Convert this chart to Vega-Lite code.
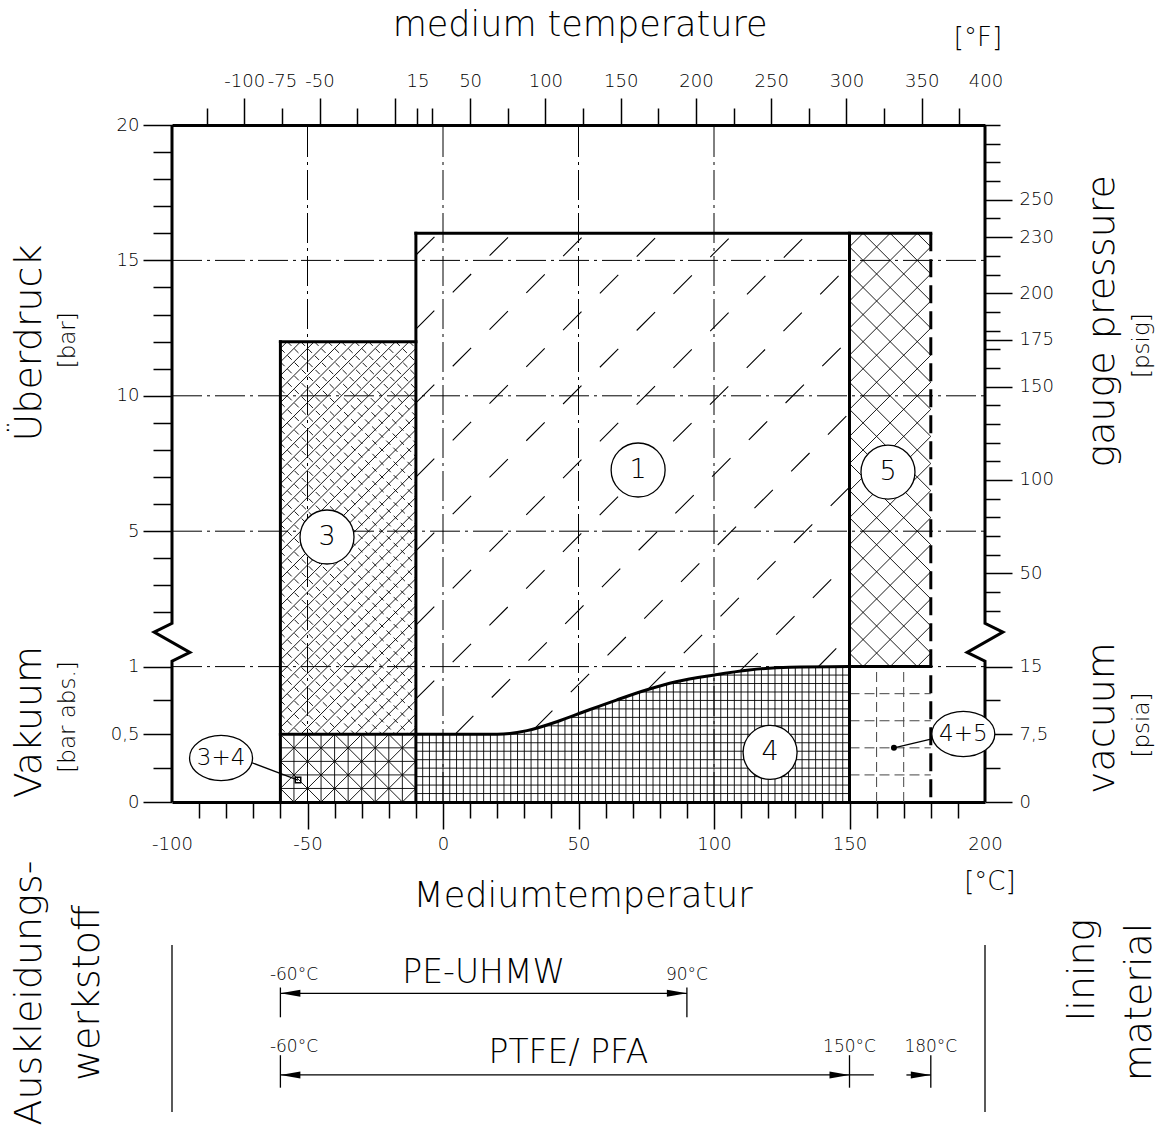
{
  "$schema": "https://vega.github.io/schema/vega-lite/v6.json",
  "width": 813,
  "height": 677,
  "padding": {"left": 172, "top": 125, "right": 185, "bottom": 340},
  "autosize": {"type": "none"},
  "background": "white",
  "config": {"view": {"stroke": null}, "font": "DejaVu Sans", "text": {"fontWeight": 200}, "axis": {"labelColor": "black", "domainColor": "black", "grid": false, "labelFontWeight": 200}},
  "datasets": {
    "grid": [
      {"t": -100, "u": 1, "t2": 200, "u2": 1},
      {"t": -100, "u": 2, "t2": 200, "u2": 2},
      {"t": -100, "u": 3, "t2": 200, "u2": 3},
      {"t": -100, "u": 4, "t2": 200, "u2": 4},
      {"t": -50, "u": 0, "t2": -50, "u2": 5},
      {"t": 0, "u": 0, "t2": 0, "u2": 5},
      {"t": 50, "u": 0, "t2": 50, "u2": 5},
      {"t": 100, "u": 0, "t2": 100, "u2": 5}
    ],
    "reg4v": [
      {"t": -7.5, "u": 0, "t2": -7.5, "u2": 0.5}, {"t": -5, "u": 0, "t2": -5, "u2": 0.5}, {"t": -2.5, "u": 0, "t2": -2.5, "u2": 0.5},
      {"t": 0, "u": 0, "t2": 0, "u2": 0.5}, {"t": 2.5, "u": 0, "t2": 2.5, "u2": 0.5}, {"t": 5, "u": 0, "t2": 5, "u2": 0.5},
      {"t": 7.5, "u": 0, "t2": 7.5, "u2": 0.5}, {"t": 10, "u": 0, "t2": 10, "u2": 0.5}, {"t": 12.5, "u": 0, "t2": 12.5, "u2": 0.5},
      {"t": 15, "u": 0, "t2": 15, "u2": 0.5}, {"t": 17.5, "u": 0, "t2": 17.5, "u2": 0.5}, {"t": 20, "u": 0, "t2": 20, "u2": 0.5},
      {"t": 22.5, "u": 0, "t2": 22.5, "u2": 0.506}, {"t": 25, "u": 0, "t2": 25, "u2": 0.512}, {"t": 27.5, "u": 0, "t2": 27.5, "u2": 0.519},
      {"t": 30, "u": 0, "t2": 30, "u2": 0.525}, {"t": 32.5, "u": 0, "t2": 32.5, "u2": 0.536}, {"t": 35, "u": 0, "t2": 35, "u2": 0.551},
      {"t": 37.5, "u": 0, "t2": 37.5, "u2": 0.566}, {"t": 40, "u": 0, "t2": 40, "u2": 0.581}, {"t": 42.5, "u": 0, "t2": 42.5, "u2": 0.597},
      {"t": 45, "u": 0, "t2": 45, "u2": 0.615}, {"t": 47.5, "u": 0, "t2": 47.5, "u2": 0.634}, {"t": 50, "u": 0, "t2": 50, "u2": 0.652},
      {"t": 52.5, "u": 0, "t2": 52.5, "u2": 0.67}, {"t": 55, "u": 0, "t2": 55, "u2": 0.688}, {"t": 57.5, "u": 0, "t2": 57.5, "u2": 0.706},
      {"t": 60, "u": 0, "t2": 60, "u2": 0.724}, {"t": 62.5, "u": 0, "t2": 62.5, "u2": 0.742}, {"t": 65, "u": 0, "t2": 65, "u2": 0.76},
      {"t": 67.5, "u": 0, "t2": 67.5, "u2": 0.777}, {"t": 70, "u": 0, "t2": 70, "u2": 0.793}, {"t": 72.5, "u": 0, "t2": 72.5, "u2": 0.81},
      {"t": 75, "u": 0, "t2": 75, "u2": 0.827}, {"t": 77.5, "u": 0, "t2": 77.5, "u2": 0.841}, {"t": 80, "u": 0, "t2": 80, "u2": 0.855},
      {"t": 82.5, "u": 0, "t2": 82.5, "u2": 0.869}, {"t": 85, "u": 0, "t2": 85, "u2": 0.882}, {"t": 87.5, "u": 0, "t2": 87.5, "u2": 0.893},
      {"t": 90, "u": 0, "t2": 90, "u2": 0.902}, {"t": 92.5, "u": 0, "t2": 92.5, "u2": 0.911}, {"t": 95, "u": 0, "t2": 95, "u2": 0.92},
      {"t": 97.5, "u": 0, "t2": 97.5, "u2": 0.929}, {"t": 100, "u": 0, "t2": 100, "u2": 0.938}, {"t": 102.5, "u": 0, "t2": 102.5, "u2": 0.945},
      {"t": 105, "u": 0, "t2": 105, "u2": 0.952}, {"t": 107.5, "u": 0, "t2": 107.5, "u2": 0.959}, {"t": 110, "u": 0, "t2": 110, "u2": 0.966},
      {"t": 112.5, "u": 0, "t2": 112.5, "u2": 0.974}, {"t": 115, "u": 0, "t2": 115, "u2": 0.978}, {"t": 117.5, "u": 0, "t2": 117.5, "u2": 0.982},
      {"t": 120, "u": 0, "t2": 120, "u2": 0.985}, {"t": 122.5, "u": 0, "t2": 122.5, "u2": 0.988}, {"t": 125, "u": 0, "t2": 125, "u2": 0.991},
      {"t": 127.5, "u": 0, "t2": 127.5, "u2": 0.994}, {"t": 130, "u": 0, "t2": 130, "u2": 0.995}, {"t": 132.5, "u": 0, "t2": 132.5, "u2": 0.996},
      {"t": 135, "u": 0, "t2": 135, "u2": 0.997}, {"t": 137.5, "u": 0, "t2": 137.5, "u2": 0.997}, {"t": 140, "u": 0, "t2": 140, "u2": 0.998},
      {"t": 142.5, "u": 0, "t2": 142.5, "u2": 0.998}, {"t": 145, "u": 0, "t2": 145, "u2": 0.999}, {"t": 147.5, "u": 0, "t2": 147.5, "u2": 0.999}
    ],
    "reg4h": [
      {"t": -10, "u": 0.0625, "t2": 150, "u2": 0.0625}, {"t": -10, "u": 0.125, "t2": 150, "u2": 0.125},
      {"t": -10, "u": 0.1875, "t2": 150, "u2": 0.1875}, {"t": -10, "u": 0.25, "t2": 150, "u2": 0.25},
      {"t": -10, "u": 0.3125, "t2": 150, "u2": 0.3125}, {"t": -10, "u": 0.375, "t2": 150, "u2": 0.375},
      {"t": -10, "u": 0.4375, "t2": 150, "u2": 0.4375}, {"t": 20, "u": 0.5, "t2": 150, "u2": 0.5},
      {"t": 36.9, "u": 0.5625, "t2": 150, "u2": 0.5625}, {"t": 46.3, "u": 0.625, "t2": 150, "u2": 0.625},
      {"t": 54.9, "u": 0.6875, "t2": 150, "u2": 0.6875}, {"t": 63.6, "u": 0.75, "t2": 150, "u2": 0.75},
      {"t": 72.8, "u": 0.8125, "t2": 150, "u2": 0.8125}, {"t": 83.7, "u": 0.875, "t2": 150, "u2": 0.875},
      {"t": 99.9, "u": 0.9375, "t2": 150, "u2": 0.9375}
    ],
    "reg34": [
      {"t": -15, "u": 0, "t2": -10, "u2": 0.1}, {"t": -25, "u": 0, "t2": -10, "u2": 0.3}, {"t": -35, "u": 0, "t2": -10, "u2": 0.5},
      {"t": -45, "u": 0, "t2": -20, "u2": 0.5}, {"t": -55, "u": 0, "t2": -30, "u2": 0.5}, {"t": -60, "u": 0.1, "t2": -40, "u2": 0.5},
      {"t": -60, "u": 0.3, "t2": -50, "u2": 0.5},
      {"t": -60, "u": 0.1, "t2": -55, "u2": 0}, {"t": -60, "u": 0.3, "t2": -45, "u2": 0}, {"t": -60, "u": 0.5, "t2": -35, "u2": 0},
      {"t": -50, "u": 0.5, "t2": -25, "u2": 0}, {"t": -40, "u": 0.5, "t2": -15, "u2": 0}, {"t": -30, "u": 0.5, "t2": -10, "u2": 0.1},
      {"t": -20, "u": 0.5, "t2": -10, "u2": 0.3},
      {"t": -55, "u": 0, "t2": -55, "u2": 0.5}, {"t": -50, "u": 0, "t2": -50, "u2": 0.5}, {"t": -45, "u": 0, "t2": -45, "u2": 0.5},
      {"t": -40, "u": 0, "t2": -40, "u2": 0.5}, {"t": -35, "u": 0, "t2": -35, "u2": 0.5}, {"t": -30, "u": 0, "t2": -30, "u2": 0.5},
      {"t": -25, "u": 0, "t2": -25, "u2": 0.5}, {"t": -20, "u": 0, "t2": -20, "u2": 0.5}, {"t": -15, "u": 0, "t2": -15, "u2": 0.5},
      {"t": -60, "u": 0.1, "t2": -10, "u2": 0.1}, {"t": -60, "u": 0.2, "t2": -10, "u2": 0.2},
      {"t": -60, "u": 0.3, "t2": -10, "u2": 0.3}, {"t": -60, "u": 0.4, "t2": -10, "u2": 0.4}
    ],
    "reg45": [
      {"t": 160, "u": 0, "t2": 160, "u2": 1}, {"t": 170, "u": 0, "t2": 170, "u2": 1},
      {"t": 150, "u": 0.2, "t2": 180, "u2": 0.2}, {"t": 150, "u": 0.4, "t2": 180, "u2": 0.4},
      {"t": 150, "u": 0.6, "t2": 180, "u2": 0.6}, {"t": 150, "u": 0.8, "t2": 180, "u2": 0.8}
    ],
    "reg3a": [
      {"t": -12.5, "u": 0.5, "t2": -10, "u2": 0.55}, {"t": -17.5, "u": 0.5, "t2": -10, "u2": 0.65},
      {"t": -22.5, "u": 0.5, "t2": -10, "u2": 0.75}, {"t": -27.5, "u": 0.5, "t2": -10, "u2": 0.85},
      {"t": -32.5, "u": 0.5, "t2": -10, "u2": 0.95}, {"t": -37.5, "u": 0.5, "t2": -10, "u2": 1.05},
      {"t": -42.5, "u": 0.5, "t2": -10, "u2": 1.15}, {"t": -47.5, "u": 0.5, "t2": -10, "u2": 1.25},
      {"t": -52.5, "u": 0.5, "t2": -10, "u2": 1.35}, {"t": -57.5, "u": 0.5, "t2": -10, "u2": 1.45},
      {"t": -60, "u": 0.55, "t2": -10, "u2": 1.55}, {"t": -60, "u": 0.65, "t2": -10, "u2": 1.65},
      {"t": -60, "u": 0.75, "t2": -10, "u2": 1.75}, {"t": -60, "u": 0.85, "t2": -10, "u2": 1.85},
      {"t": -60, "u": 0.95, "t2": -10, "u2": 1.95}, {"t": -60, "u": 1.05, "t2": -10, "u2": 2.05},
      {"t": -60, "u": 1.15, "t2": -10, "u2": 2.15}, {"t": -60, "u": 1.25, "t2": -10, "u2": 2.25},
      {"t": -60, "u": 1.35, "t2": -10, "u2": 2.35}, {"t": -60, "u": 1.45, "t2": -10, "u2": 2.45},
      {"t": -60, "u": 1.55, "t2": -10, "u2": 2.55}, {"t": -60, "u": 1.65, "t2": -10, "u2": 2.65},
      {"t": -60, "u": 1.75, "t2": -10, "u2": 2.75}, {"t": -60, "u": 1.85, "t2": -10, "u2": 2.85},
      {"t": -60, "u": 1.95, "t2": -10, "u2": 2.95}, {"t": -60, "u": 2.05, "t2": -10, "u2": 3.05},
      {"t": -60, "u": 2.15, "t2": -10, "u2": 3.15}, {"t": -60, "u": 2.25, "t2": -10, "u2": 3.25},
      {"t": -60, "u": 2.35, "t2": -10, "u2": 3.35}, {"t": -60, "u": 2.45, "t2": -12.5, "u2": 3.4},
      {"t": -60, "u": 2.55, "t2": -17.5, "u2": 3.4}, {"t": -60, "u": 2.65, "t2": -22.5, "u2": 3.4},
      {"t": -60, "u": 2.75, "t2": -27.5, "u2": 3.4}, {"t": -60, "u": 2.85, "t2": -32.5, "u2": 3.4},
      {"t": -60, "u": 2.95, "t2": -37.5, "u2": 3.4}, {"t": -60, "u": 3.05, "t2": -42.5, "u2": 3.4},
      {"t": -60, "u": 3.15, "t2": -47.5, "u2": 3.4}, {"t": -60, "u": 3.25, "t2": -52.5, "u2": 3.4},
      {"t": -60, "u": 3.35, "t2": -57.5, "u2": 3.4}
    ],
    "reg3b": [
      {"t": -60, "u": 0.55, "t2": -57.5, "u2": 0.5}, {"t": -60, "u": 0.65, "t2": -52.5, "u2": 0.5},
      {"t": -60, "u": 0.75, "t2": -47.5, "u2": 0.5}, {"t": -60, "u": 0.85, "t2": -42.5, "u2": 0.5},
      {"t": -60, "u": 0.95, "t2": -37.5, "u2": 0.5}, {"t": -60, "u": 1.05, "t2": -32.5, "u2": 0.5},
      {"t": -60, "u": 1.15, "t2": -27.5, "u2": 0.5}, {"t": -60, "u": 1.25, "t2": -22.5, "u2": 0.5},
      {"t": -60, "u": 1.35, "t2": -17.5, "u2": 0.5}, {"t": -60, "u": 1.45, "t2": -12.5, "u2": 0.5},
      {"t": -60, "u": 1.55, "t2": -10, "u2": 0.55}, {"t": -60, "u": 1.65, "t2": -10, "u2": 0.65},
      {"t": -60, "u": 1.75, "t2": -10, "u2": 0.75}, {"t": -60, "u": 1.85, "t2": -10, "u2": 0.85},
      {"t": -60, "u": 1.95, "t2": -10, "u2": 0.95}, {"t": -60, "u": 2.05, "t2": -10, "u2": 1.05},
      {"t": -60, "u": 2.15, "t2": -10, "u2": 1.15}, {"t": -60, "u": 2.25, "t2": -10, "u2": 1.25},
      {"t": -60, "u": 2.35, "t2": -10, "u2": 1.35}, {"t": -60, "u": 2.45, "t2": -10, "u2": 1.45},
      {"t": -60, "u": 2.55, "t2": -10, "u2": 1.55}, {"t": -60, "u": 2.65, "t2": -10, "u2": 1.65},
      {"t": -60, "u": 2.75, "t2": -10, "u2": 1.75}, {"t": -60, "u": 2.85, "t2": -10, "u2": 1.85},
      {"t": -60, "u": 2.95, "t2": -10, "u2": 1.95}, {"t": -60, "u": 3.05, "t2": -10, "u2": 2.05},
      {"t": -60, "u": 3.15, "t2": -10, "u2": 2.15}, {"t": -60, "u": 3.25, "t2": -10, "u2": 2.25},
      {"t": -60, "u": 3.35, "t2": -10, "u2": 2.35}, {"t": -57.5, "u": 3.4, "t2": -10, "u2": 2.45},
      {"t": -52.5, "u": 3.4, "t2": -10, "u2": 2.55}, {"t": -47.5, "u": 3.4, "t2": -10, "u2": 2.65},
      {"t": -42.5, "u": 3.4, "t2": -10, "u2": 2.75}, {"t": -37.5, "u": 3.4, "t2": -10, "u2": 2.85},
      {"t": -32.5, "u": 3.4, "t2": -10, "u2": 2.95}, {"t": -27.5, "u": 3.4, "t2": -10, "u2": 3.05},
      {"t": -22.5, "u": 3.4, "t2": -10, "u2": 3.15}, {"t": -17.5, "u": 3.4, "t2": -10, "u2": 3.25},
      {"t": -12.5, "u": 3.4, "t2": -10, "u2": 3.35}
    ],
    "reg5": [
      {"t": 175, "u": 1, "t2": 180, "u2": 1.1}, {"t": 165, "u": 1, "t2": 180, "u2": 1.3}, {"t": 155, "u": 1, "t2": 180, "u2": 1.5},
      {"t": 150, "u": 1.1, "t2": 180, "u2": 1.7}, {"t": 150, "u": 1.3, "t2": 180, "u2": 1.9}, {"t": 150, "u": 1.5, "t2": 180, "u2": 2.1},
      {"t": 150, "u": 1.7, "t2": 180, "u2": 2.3}, {"t": 150, "u": 1.9, "t2": 180, "u2": 2.5}, {"t": 150, "u": 2.1, "t2": 180, "u2": 2.7},
      {"t": 150, "u": 2.3, "t2": 180, "u2": 2.9}, {"t": 150, "u": 2.5, "t2": 180, "u2": 3.1}, {"t": 150, "u": 2.7, "t2": 180, "u2": 3.3},
      {"t": 150, "u": 2.9, "t2": 180, "u2": 3.5}, {"t": 150, "u": 3.1, "t2": 180, "u2": 3.7}, {"t": 150, "u": 3.3, "t2": 180, "u2": 3.9},
      {"t": 150, "u": 3.5, "t2": 180, "u2": 4.1}, {"t": 150, "u": 3.7, "t2": 175, "u2": 4.2}, {"t": 150, "u": 3.9, "t2": 165, "u2": 4.2},
      {"t": 150, "u": 4.1, "t2": 155, "u2": 4.2},
      {"t": 150, "u": 1.1, "t2": 155, "u2": 1}, {"t": 150, "u": 1.3, "t2": 165, "u2": 1}, {"t": 150, "u": 1.5, "t2": 175, "u2": 1},
      {"t": 150, "u": 1.7, "t2": 180, "u2": 1.1}, {"t": 150, "u": 1.9, "t2": 180, "u2": 1.3}, {"t": 150, "u": 2.1, "t2": 180, "u2": 1.5},
      {"t": 150, "u": 2.3, "t2": 180, "u2": 1.7}, {"t": 150, "u": 2.5, "t2": 180, "u2": 1.9}, {"t": 150, "u": 2.7, "t2": 180, "u2": 2.1},
      {"t": 150, "u": 2.9, "t2": 180, "u2": 2.3}, {"t": 150, "u": 3.1, "t2": 180, "u2": 2.5}, {"t": 150, "u": 3.3, "t2": 180, "u2": 2.7},
      {"t": 150, "u": 3.5, "t2": 180, "u2": 2.9}, {"t": 150, "u": 3.7, "t2": 180, "u2": 3.1}, {"t": 150, "u": 3.9, "t2": 180, "u2": 3.3},
      {"t": 150, "u": 4.1, "t2": 180, "u2": 3.5}, {"t": 155, "u": 4.2, "t2": 180, "u2": 3.7}, {"t": 165, "u": 4.2, "t2": 180, "u2": 3.9},
      {"t": 175, "u": 4.2, "t2": 180, "u2": 4.1}
    ],
    "reg1": [
      {"t": -10, "u": 4.04, "t2": -1.85, "u2": 4.2}, {"t": -10, "u": 3.493, "t2": 25.46, "u2": 4.2},
      {"t": -10, "u": 2.947, "t2": 52.77, "u2": 4.2}, {"t": -10, "u": 2.4, "t2": 80.07, "u2": 4.2},
      {"t": -10, "u": 1.854, "t2": 107.38, "u2": 4.2}, {"t": -10, "u": 1.307, "t2": 134.69, "u2": 4.2},
      {"t": -10, "u": 0.761, "t2": 150, "u2": 3.966}, {"t": 4.43, "u": 0.5, "t2": 150, "u2": 3.42},
      {"t": 33.6, "u": 0.539, "t2": 150, "u2": 2.873}, {"t": 75.3, "u": 0.827, "t2": 150, "u2": 2.326},
      {"t": 109.4, "u": 0.964, "t2": 150, "u2": 1.78}, {"t": 138.4, "u": 0.997, "t2": 150, "u2": 1.233}
    ],
    "bounds": [
      {"t": -10, "u": 0, "t2": -10, "u2": 4.2}, {"t": -10, "u": 4.2, "t2": 180, "u2": 4.2},
      {"t": 150, "u": 0, "t2": 150, "u2": 4.2}, {"t": -60, "u": 0, "t2": -60, "u2": 3.4},
      {"t": -60, "u": 3.4, "t2": -10, "u2": 3.4}, {"t": -60, "u": 0.5, "t2": -10, "u2": 0.5},
      {"t": 150, "u": 1, "t2": 180, "u2": 1}
    ],
    "bound180": [{"t": 180, "u": 4.2, "t2": 180, "u2": 0}],
    "curve": [
      {"t": -10, "u": 0.5}, {"t": 20, "u": 0.5}, {"t": 31, "u": 0.527}, {"t": 42, "u": 0.593},
      {"t": 53, "u": 0.674}, {"t": 64, "u": 0.753}, {"t": 75, "u": 0.827}, {"t": 86, "u": 0.888},
      {"t": 100, "u": 0.938}, {"t": 113, "u": 0.975}, {"t": 128, "u": 0.995}, {"t": 150, "u": 1.0}
    ],
    "frame": [
      {"side": "L", "i": 0, "t": -100, "u": 5}, {"side": "L", "i": 1, "t": -100, "u": 1.32},
      {"side": "L", "i": 2, "t": -106.6, "u": 1.255}, {"side": "L", "i": 3, "t": -93.4, "u": 1.105},
      {"side": "L", "i": 4, "t": -100, "u": 1.04}, {"side": "L", "i": 5, "t": -100, "u": 0},
      {"side": "R", "i": 0, "t": 200, "u": 5}, {"side": "R", "i": 1, "t": 200, "u": 1.32},
      {"side": "R", "i": 2, "t": 206.6, "u": 1.255}, {"side": "R", "i": 3, "t": 193.4, "u": 1.105},
      {"side": "R", "i": 4, "t": 200, "u": 1.04}, {"side": "R", "i": 5, "t": 200, "u": 0}
    ],
    "leaders": [
      {"t": -70.5, "u": 0.29, "t2": -53.5, "u2": 0.162},
      {"t": 181.2, "u": 0.47, "t2": 166.4, "u2": 0.4}
    ],
    "dotOpen": [{"t": -53.5, "u": 0.162}],
    "dotFilled": [{"t": 166.4, "u": 0.4}],
    "circles": [
      {"label": "1", "t": 72, "u": 2.452}, {"label": "3", "t": -42.8, "u": 1.957},
      {"label": "4", "t": 120.7, "u": 0.366}, {"label": "5", "t": 164.2, "u": 2.437}
    ],
    "ellipses": [
      {"label": "3+4", "t": -81.9, "u": 0.325}, {"label": "4+5", "t": 192.0, "u": 0.502}
    ],
    "dims": [
      {"t": -100, "u": -1.056, "t2": -100, "u2": -2.29}, {"t": 200, "u": -1.056, "t2": 200, "u2": -2.29},
      {"t": -60, "u": -1.413, "t2": 90, "u2": -1.413},
      {"t": -60, "u": -2.016, "t2": 159, "u2": -2.016}, {"t": 171, "u": -2.016, "t2": 180, "u2": -2.016},
      {"t": -60, "u": -1.37, "t2": -60, "u2": -1.59}, {"t": 90, "u": -1.37, "t2": 90, "u2": -1.59},
      {"t": -60, "u": -1.87, "t2": -60, "u2": -2.11}, {"t": 150, "u": -1.87, "t2": 150, "u2": -2.11},
      {"t": 180, "u": -1.87, "t2": 180, "u2": -2.11}
    ],
    "arrowsR": [{"t": 90, "u": -1.413}, {"t": 150, "u": -2.016}, {"t": 180, "u": -2.016}],
    "arrowsL": [{"t": -60, "u": -1.413}, {"t": -60, "u": -2.016}],
    "smallText": [
      {"label": "-60°C", "t": -55, "u": -1.278}, {"label": "90°C", "t": 90, "u": -1.278},
      {"label": "-60°C", "t": -55, "u": -1.81}, {"label": "150°C", "t": 150, "u": -1.81},
      {"label": "180°C", "t": 180, "u": -1.81}
    ],
    "materialText": [
      {"label": "PE-UHMW", "t": 15, "u": -1.263}, {"label": "PTFE/ PFA", "t": 46.3, "u": -1.854}
    ],
    "titleText": [
      {"label": "medium temperature", "t": 50.6, "u": 5.654}, {"label": "Mediumtemperatur", "t": 51.7, "u": -0.775}
    ],
    "rotTitleText": [
      {"label": "Überdruck", "t": -152.4, "u": 3.39}, {"label": "Vakuum", "t": -152.4, "u": 0.59},
      {"label": "gauge pressure", "t": 243.5, "u": 3.55}, {"label": "vacuum", "t": 243.5, "u": 0.62},
      {"label": "Auskleidungs-", "t": -152.4, "u": -1.411}, {"label": "werkstoff", "t": -131, "u": -1.41},
      {"label": "lining", "t": 236.2, "u": -1.24}, {"label": "material", "t": 257.2, "u": -1.477}
    ],
    "rotUnitText": [
      {"label": "[bar]", "t": -138.4, "u": 3.41}, {"label": "[bar abs.]", "t": -138.4, "u": 0.628},
      {"label": "[psig]", "t": 257.9, "u": 3.37}, {"label": "[psia]", "t": 257.9, "u": 0.569}
    ],
    "unitText": [
      {"label": "[°F]", "t": 197.4, "u": 5.646}, {"label": "[°C]", "t": 201.8, "u": -0.59}
    ],
    "edgeLabel": [{"label": "400", "t": 204.44, "u": 5.318}]
  },
  "layer": [
    {
      "layer": [
        {
          "data": {"name": "grid"},
          "mark": {"type": "rule", "color": "black", "strokeWidth": 1, "strokeDash": [30, 5, 3, 5]},
          "encoding": {
            "x": {"field": "t", "type": "quantitative", "scale": {"domain": [-100, 200], "nice": false, "zero": false}, "axis": null},
            "x2": {"field": "t2"},
            "y": {"field": "u", "type": "quantitative", "scale": {"domain": [0, 5], "nice": false, "zero": false}, "axis": null},
            "y2": {"field": "u2"}
          }
        },
        {
          "data": {"name": "reg4v"},
          "mark": {"type": "rule", "color": "black", "strokeWidth": 0.9},
          "encoding": {"x": {"field": "t", "type": "quantitative", "axis": null}, "x2": {"field": "t2"}, "y": {"field": "u", "type": "quantitative", "axis": null}, "y2": {"field": "u2"}}
        },
        {
          "data": {"name": "reg4h"},
          "mark": {"type": "rule", "color": "black", "strokeWidth": 0.9},
          "encoding": {"x": {"field": "t", "type": "quantitative", "axis": null}, "x2": {"field": "t2"}, "y": {"field": "u", "type": "quantitative", "axis": null}, "y2": {"field": "u2"}}
        },
        {
          "data": {"name": "reg34"},
          "mark": {"type": "rule", "color": "black", "strokeWidth": 0.9},
          "encoding": {"x": {"field": "t", "type": "quantitative", "axis": null}, "x2": {"field": "t2"}, "y": {"field": "u", "type": "quantitative", "axis": null}, "y2": {"field": "u2"}}
        },
        {
          "data": {"name": "reg45"},
          "mark": {"type": "rule", "color": "#444444", "strokeWidth": 1, "strokeDash": [10, 5]},
          "encoding": {"x": {"field": "t", "type": "quantitative", "axis": null}, "x2": {"field": "t2"}, "y": {"field": "u", "type": "quantitative", "axis": null}, "y2": {"field": "u2"}}
        },
        {
          "data": {"name": "reg3a"},
          "mark": {"type": "rule", "color": "black", "strokeWidth": 0.9},
          "encoding": {"x": {"field": "t", "type": "quantitative", "axis": null}, "x2": {"field": "t2"}, "y": {"field": "u", "type": "quantitative", "axis": null}, "y2": {"field": "u2"}}
        },
        {
          "data": {"name": "reg3b"},
          "mark": {"type": "rule", "color": "black", "strokeWidth": 0.9, "strokeDash": [6, 4]},
          "encoding": {"x": {"field": "t", "type": "quantitative", "axis": null}, "x2": {"field": "t2"}, "y": {"field": "u", "type": "quantitative", "axis": null}, "y2": {"field": "u2"}}
        },
        {
          "data": {"name": "reg5"},
          "mark": {"type": "rule", "color": "black", "strokeWidth": 0.9},
          "encoding": {"x": {"field": "t", "type": "quantitative", "axis": null}, "x2": {"field": "t2"}, "y": {"field": "u", "type": "quantitative", "axis": null}, "y2": {"field": "u2"}}
        },
        {
          "data": {"name": "reg1"},
          "mark": {"type": "rule", "color": "black", "strokeWidth": 1.1, "strokeDash": [26, 26]},
          "encoding": {"x": {"field": "t", "type": "quantitative", "axis": null}, "x2": {"field": "t2"}, "y": {"field": "u", "type": "quantitative", "axis": null}, "y2": {"field": "u2"}}
        },
        {
          "data": {"name": "bounds"},
          "mark": {"type": "rule", "color": "black", "strokeWidth": 3, "strokeCap": "square"},
          "encoding": {"x": {"field": "t", "type": "quantitative", "axis": null}, "x2": {"field": "t2"}, "y": {"field": "u", "type": "quantitative", "axis": null}, "y2": {"field": "u2"}}
        },
        {
          "data": {"name": "bound180"},
          "mark": {"type": "rule", "color": "black", "strokeWidth": 3, "strokeDash": [18, 8]},
          "encoding": {"x": {"field": "t", "type": "quantitative", "axis": null}, "x2": {"field": "t2"}, "y": {"field": "u", "type": "quantitative", "axis": null}, "y2": {"field": "u2"}}
        },
        {
          "data": {"name": "curve"},
          "mark": {"type": "line", "color": "black", "strokeWidth": 3, "interpolate": "monotone"},
          "encoding": {"x": {"field": "t", "type": "quantitative", "axis": null}, "y": {"field": "u", "type": "quantitative", "axis": null}}
        },
        {
          "data": {"name": "frame"},
          "mark": {"type": "line", "color": "black", "strokeWidth": 3, "strokeJoin": "miter"},
          "encoding": {"x": {"field": "t", "type": "quantitative", "axis": null}, "y": {"field": "u", "type": "quantitative", "axis": null}, "detail": {"field": "side"}, "order": {"field": "i", "type": "quantitative"}}
        },
        {
          "data": {"name": "leaders"},
          "mark": {"type": "rule", "color": "black", "strokeWidth": 1.2},
          "encoding": {"x": {"field": "t", "type": "quantitative", "axis": null}, "x2": {"field": "t2"}, "y": {"field": "u", "type": "quantitative", "axis": null}, "y2": {"field": "u2"}}
        },
        {
          "data": {"name": "dotOpen"},
          "mark": {"type": "point", "shape": "square", "size": 30, "filled": false, "stroke": "black", "strokeWidth": 1.5, "opacity": 1},
          "encoding": {"x": {"field": "t", "type": "quantitative", "axis": null}, "y": {"field": "u", "type": "quantitative", "axis": null}}
        },
        {
          "data": {"name": "dotFilled"},
          "mark": {"type": "point", "shape": "circle", "size": 36, "filled": true, "fill": "black", "opacity": 1},
          "encoding": {"x": {"field": "t", "type": "quantitative", "axis": null}, "y": {"field": "u", "type": "quantitative", "axis": null}}
        },
        {
          "data": {"name": "circles"},
          "mark": {"type": "point", "shape": "circle", "size": 2916, "filled": true, "fill": "white", "stroke": "black", "strokeWidth": 1.3, "opacity": 1},
          "encoding": {"x": {"field": "t", "type": "quantitative", "axis": null}, "y": {"field": "u", "type": "quantitative", "axis": null}}
        },
        {
          "data": {"name": "ellipses"},
          "mark": {"type": "point", "shape": "M-1,0A1,0.72,0,1,0,1,0A1,0.72,0,1,0,-1,0Z", "size": 3969, "filled": true, "fill": "white", "stroke": "black", "strokeWidth": 1.3, "opacity": 1},
          "encoding": {"x": {"field": "t", "type": "quantitative", "axis": null}, "y": {"field": "u", "type": "quantitative", "axis": null}}
        },
        {
          "data": {"name": "circles"},
          "mark": {"type": "text", "fontSize": 27, "align": "center", "baseline": "middle", "color": "black"},
          "encoding": {"x": {"field": "t", "type": "quantitative", "axis": null}, "y": {"field": "u", "type": "quantitative", "axis": null}, "text": {"field": "label"}}
        },
        {
          "data": {"name": "ellipses"},
          "mark": {"type": "text", "fontSize": 23, "align": "center", "baseline": "middle", "color": "black"},
          "encoding": {"x": {"field": "t", "type": "quantitative", "axis": null}, "y": {"field": "u", "type": "quantitative", "axis": null}, "text": {"field": "label"}}
        },
        {
          "data": {"name": "dims"},
          "mark": {"type": "rule", "color": "black", "strokeWidth": 1.3},
          "encoding": {"x": {"field": "t", "type": "quantitative", "axis": null}, "x2": {"field": "t2"}, "y": {"field": "u", "type": "quantitative", "axis": null}, "y2": {"field": "u2"}}
        },
        {
          "data": {"name": "arrowsR"},
          "mark": {"type": "point", "shape": "M0,0L-2,-0.35L-2,0.35Z", "size": 400, "filled": true, "fill": "black", "opacity": 1},
          "encoding": {"x": {"field": "t", "type": "quantitative", "axis": null}, "y": {"field": "u", "type": "quantitative", "axis": null}}
        },
        {
          "data": {"name": "arrowsL"},
          "mark": {"type": "point", "shape": "M0,0L2,-0.35L2,0.35Z", "size": 400, "filled": true, "fill": "black", "opacity": 1},
          "encoding": {"x": {"field": "t", "type": "quantitative", "axis": null}, "y": {"field": "u", "type": "quantitative", "axis": null}}
        },
        {
          "data": {"name": "smallText"},
          "mark": {"type": "text", "fontSize": 17, "align": "center", "baseline": "middle", "color": "black"},
          "encoding": {"x": {"field": "t", "type": "quantitative", "axis": null}, "y": {"field": "u", "type": "quantitative", "axis": null}, "text": {"field": "label"}}
        },
        {
          "data": {"name": "materialText"},
          "mark": {"type": "text", "fontSize": 33, "align": "center", "baseline": "middle", "color": "black"},
          "encoding": {"x": {"field": "t", "type": "quantitative", "axis": null}, "y": {"field": "u", "type": "quantitative", "axis": null}, "text": {"field": "label"}}
        },
        {
          "data": {"name": "titleText"},
          "mark": {"type": "text", "fontSize": 35, "align": "center", "baseline": "alphabetic", "color": "black"},
          "encoding": {"x": {"field": "t", "type": "quantitative", "axis": null}, "y": {"field": "u", "type": "quantitative", "axis": null}, "text": {"field": "label"}}
        },
        {
          "data": {"name": "rotTitleText"},
          "mark": {"type": "text", "fontSize": 38, "align": "center", "baseline": "middle", "angle": 270, "color": "black"},
          "encoding": {"x": {"field": "t", "type": "quantitative", "axis": null}, "y": {"field": "u", "type": "quantitative", "axis": null}, "text": {"field": "label"}}
        },
        {
          "data": {"name": "rotUnitText"},
          "mark": {"type": "text", "fontSize": 23, "align": "center", "baseline": "middle", "angle": 270, "color": "black"},
          "encoding": {"x": {"field": "t", "type": "quantitative", "axis": null}, "y": {"field": "u", "type": "quantitative", "axis": null}, "text": {"field": "label"}}
        },
        {
          "data": {"name": "unitText"},
          "mark": {"type": "text", "fontSize": 26, "align": "center", "baseline": "middle", "color": "black"},
          "encoding": {"x": {"field": "t", "type": "quantitative", "axis": null}, "y": {"field": "u", "type": "quantitative", "axis": null}, "text": {"field": "label"}}
        },
        {
          "data": {"name": "edgeLabel"},
          "mark": {"type": "text", "fontSize": 18, "align": "center", "baseline": "middle", "dx": -11, "color": "black"},
          "encoding": {"x": {"field": "t", "type": "quantitative", "axis": null}, "y": {"field": "u", "type": "quantitative", "axis": null}, "text": {"field": "label"}}
        }
      ]
    },
    {
      "data": {"values": [{"t": 0, "u": 0}]},
      "mark": {"type": "point", "opacity": 0},
      "encoding": {
        "x": {"field": "t", "type": "quantitative", "scale": {"domain": [-100, 200], "nice": false, "zero": false},
          "axis": {"orient": "bottom", "title": null,
            "values": [-100, -90, -80, -70, -60, -50, -40, -30, -20, -10, 0, 10, 20, 30, 40, 50, 60, 70, 80, 90, 100, 110, 120, 130, 140, 150, 160, 170, 180, 190, 200],
            "labelExpr": "datum.value % 50 == 0 ? '' + datum.value : ''",
            "labelFontSize": 18, "labelPadding": 6, "labelFlush": false, "labelBound": false, "labelOverlap": false,
            "tickSize": {"condition": {"test": "datum.value % 50 == 0", "value": 27}, "value": 16},
            "tickColor": {"condition": {"test": "datum.value == -100 || datum.value == 200", "value": "transparent"}, "value": "black"},
            "tickWidth": 1.5, "domain": true, "domainWidth": 3, "domainColor": "black", "grid": false}},
        "y": {"field": "u", "type": "quantitative", "scale": {"domain": [0, 5], "nice": false, "zero": false},
          "axis": {"orient": "left", "title": null,
            "values": [0, 0.25, 0.5, 0.75, 1, 1.4, 1.6, 1.8, 2, 2.2, 2.4, 2.6, 2.8, 3, 3.2, 3.4, 3.6, 3.8, 4, 4.2, 4.4, 4.6, 4.8, 5],
            "labelExpr": "datum.value == 0 ? '0' : datum.value == 0.5 ? '0,5' : datum.value == 1 ? '1' : datum.value == 2 ? '5' : datum.value == 3 ? '10' : datum.value == 4 ? '15' : datum.value == 5 ? '20' : ''",
            "labelFontSize": 18, "labelPadding": 4, "labelFlush": false, "labelBound": false, "labelOverlap": false,
            "tickSize": {"condition": {"test": "indexof([0, 0.5, 1, 2, 3, 4, 5], datum.value) >= 0", "value": 29}, "value": 19},
            "tickColor": "black", "tickWidth": 1.5, "domain": false, "grid": false}}
      }
    },
    {
      "data": {"values": [{"f": 0, "v": 0}]},
      "mark": {"type": "point", "opacity": 0},
      "encoding": {
        "x": {"field": "f", "type": "quantitative", "scale": {"domain": [-148, 392], "nice": false, "zero": false},
          "axis": {"orient": "top", "title": null,
            "values": [-125, -100, -75, -50, -25, 0, 15, 25, 50, 75, 100, 125, 150, 175, 200, 225, 250, 275, 300, 325, 350, 375],
            "labelExpr": "indexof([-100, -75, -50, 15, 50, 100, 150, 200, 250, 300, 350], datum.value) >= 0 ? '' + datum.value : ''",
            "labelFontSize": 18, "labelFlush": false, "labelBound": false, "labelOverlap": false,
            "labelPadding": {"condition": {"test": "datum.value % 50 == 0", "value": 8}, "value": 18},
            "tickSize": {"condition": {"test": "datum.value % 50 == 0", "value": 27}, "value": 17},
            "tickColor": "black",
            "tickWidth": 1.5, "domain": true, "domainWidth": 3, "domainColor": "black", "grid": false}},
        "y": {"field": "v", "type": "quantitative", "scale": {"domain": [0, 5], "nice": false, "zero": false},
          "axis": {"orient": "right", "title": null,
            "values": [0, 0.25, 0.5, 0.75, 1, 1.4137, 1.5516, 1.6895, 1.8274, 1.9653, 2.1032, 2.2411, 2.379, 2.5168, 2.6547, 2.7926, 2.9305, 3.0684, 3.2063, 3.3442, 3.4132, 3.4821, 3.62, 3.7579, 3.8958, 4.0337, 4.1716, 4.3095, 4.4474, 4.5853, 4.7232, 4.8611, 4.999],
            "labelExpr": "datum.value == 0 ? '0' : datum.value == 0.5 ? '7,5' : datum.value == 1 ? '15' : datum.value == 1.6895 ? '50' : datum.value == 2.379 ? '100' : datum.value == 3.0684 ? '150' : datum.value == 3.4132 ? '175' : datum.value == 3.7579 ? '200' : datum.value == 4.1716 ? '230' : datum.value == 4.4474 ? '250' : ''",
            "labelFontSize": 18, "labelPadding": 7, "labelFlush": false, "labelBound": false, "labelOverlap": false,
            "tickSize": {"condition": {"test": "indexof([0, 0.5, 1, 1.6895, 2.379, 3.0684, 3.4132, 3.7579, 4.1716, 4.4474], datum.value) >= 0", "value": 27}, "value": 15},
            "tickColor": "black", "tickWidth": 1.5, "domain": false, "grid": false}}
      }
    }
  ],
  "resolve": {"scale": {"x": "independent", "y": "independent"}}
}
